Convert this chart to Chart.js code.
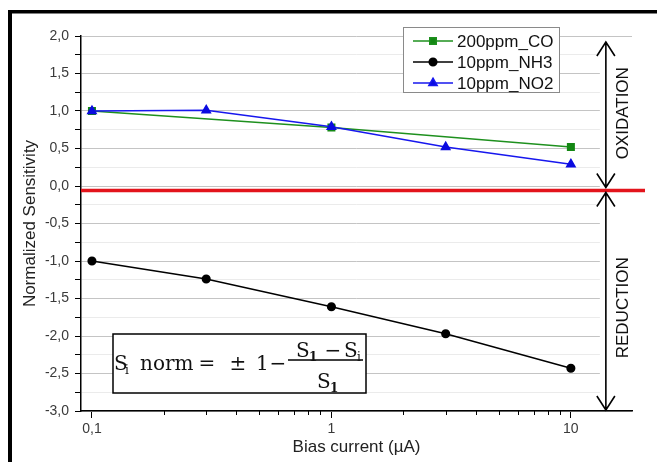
<!DOCTYPE html>
<html>
<head>
<meta charset="utf-8">
<script src="https://cdn.jsdelivr.net/npm/chart.js@4.4.1/dist/chart.umd.min.js"></script>
<style>
  html, body { margin: 0; padding: 0; background: #fff; }
  #wrap { position: relative; width: 657px; height: 462px; }
</style>
</head>
<body>
<div id="wrap"><canvas id="myChart_sens"></canvas></div>
<script>
/*--------DATA-----------*/
var currents = [0.1, 0.3, 1, 3, 10];
var co_currents = [0.1, 1, 10];
var co_200 = [1.0, 0.78, 0.52];
var nh3_10 = [-1.0, -1.24, -1.61, -1.97, -2.43];
var no2_10 = [1.0, 1.01, 0.79, 0.52, 0.29];

var xMajor = [0.1, 1, 10];
var xMinor = [0.2, 0.3, 0.4, 0.5, 0.6, 0.7, 0.8, 0.9, 2, 3, 4, 5, 6, 7, 8, 9];
var zeroLine = -0.06;
var arrowX = 14;

var FONT = "'Liberation Sans', Arial, sans-serif";
var SERIF = "'DejaVu Serif', serif";

function pts(xs, ys) {
  return xs.map(function (x, i) { return { x: x, y: ys[i] }; });
}

/*--------EXTRAS (red line, arrows, legend, formula)-----------*/
var extras = {
  id: 'extras',
  beforeDatasetsDraw: function (chart) {
    var ctx = chart.ctx, a = chart.chartArea;
    var ax = chart.scales.x.getPixelForValue(arrowX);
    ctx.save();
    ctx.fillStyle = '#fff';
    ctx.fillRect(ax - 6, a.top + 2, a.right - ax + 6, a.bottom - a.top - 3);
    ctx.restore();
  },
  afterDatasetsDraw: function (chart) {
    var ctx = chart.ctx, a = chart.chartArea;
    var xs = chart.scales.x, ys = chart.scales.y;
    ctx.save();

    // minor x ticks
    ctx.strokeStyle = '#000';
    ctx.lineWidth = 1;
    xMinor.forEach(function (v) {
      var px = Math.round(xs.getPixelForValue(v)) + 0.5;
      ctx.beginPath();
      ctx.moveTo(px, a.bottom);
      ctx.lineTo(px, a.bottom + 4);
      ctx.stroke();
    });

    // red line
    var ry = ys.getPixelForValue(zeroLine);
    ctx.strokeStyle = '#e3141c';
    ctx.lineWidth = 3.5;
    ctx.beginPath();
    ctx.moveTo(a.left, ry);
    ctx.lineTo(a.right + 13, ry);
    ctx.stroke();

    // arrows
    var ax = xs.getPixelForValue(arrowX);
    function arrow(y1, y2) {
      ctx.beginPath();
      ctx.moveTo(ax, y1); ctx.lineTo(ax, y2);
      ctx.moveTo(ax - 9, y1 + 14); ctx.lineTo(ax, y1); ctx.lineTo(ax + 9, y1 + 14);
      ctx.moveTo(ax - 9, y2 - 14); ctx.lineTo(ax, y2); ctx.lineTo(ax + 9, y2 - 14);
      ctx.stroke();
    }
    ctx.strokeStyle = '#000';
    ctx.lineWidth = 1.6;
    arrow(ys.getPixelForValue(1.92), ry - 3);
    arrow(ry + 2, a.bottom - 1);

    ctx.fillStyle = '#111';
    ctx.font = '17px ' + FONT;
    ctx.textAlign = 'center';
    ctx.textBaseline = 'middle';
    var topMid = (ys.getPixelForValue(1.92) + ry) / 2;
    var botMid = (ry + a.bottom) / 2;
    [['OXIDATION', topMid - 3], ['REDUCTION', botMid + 7]].forEach(function (t) {
      ctx.save();
      ctx.translate(ax + 17, t[1]);
      ctx.rotate(-Math.PI / 2);
      ctx.fillText(t[0], 0, 0);
      ctx.restore();
    });
    ctx.restore();
  },
  afterDraw: function (chart) {
    var ctx = chart.ctx;
    ctx.save();

    // frame
    ctx.fillStyle = '#000';
    ctx.fillRect(8, 10, 657, 3.5);
    ctx.fillRect(8, 10, 4, 462);

    // legend
    var lx = 403, ly = 27;
    ctx.fillStyle = '#fff';
    ctx.fillRect(lx, ly, 156, 65);
    ctx.strokeStyle = '#8a8a8a';
    ctx.lineWidth = 1;
    ctx.strokeRect(lx + 0.5, ly + 0.5, 156, 65);
    var items = chart.data.datasets;
    ctx.font = '17px ' + FONT;
    ctx.textAlign = 'left';
    ctx.textBaseline = 'middle';
    items.forEach(function (ds, i) {
      var y = ly + 14 + i * 21;
      ctx.strokeStyle = ds.borderColor;
      ctx.lineWidth = 1.5;
      ctx.beginPath();
      ctx.moveTo(lx + 10, y); ctx.lineTo(lx + 50, y);
      ctx.stroke();
      ctx.fillStyle = ds.pointBackgroundColor;
      Chart.helpers.drawPoint(ctx, { pointStyle: ds.pointStyle, radius: ds.pointRadius, rotation: 0, borderWidth: 1 }, lx + 30, y);
      ctx.fillStyle = '#111';
      ctx.fillText(ds.label, lx + 54, y + 1);
    });

    // formula box
    var bx = 113, by = 334;
    ctx.fillStyle = '#fff';
    ctx.fillRect(bx, by, 253, 59);
    ctx.strokeStyle = '#000';
    ctx.lineWidth = 1.5;
    ctx.strokeRect(bx, by, 253, 59);
    ctx.fillStyle = '#111';
    ctx.textBaseline = 'alphabetic';
    ctx.textAlign = 'left';
    ctx.font = '20px ' + SERIF;
    ctx.fillText('S', bx + 1, by + 36);
    ctx.fillText('norm', bx + 27, by + 36);
    ctx.fillText('1', bx + 143, by + 36);
    ctx.textAlign = 'center';
    ctx.fillText('=', bx + 94, by + 36);
    ctx.fillText('±', bx + 125, by + 36);
    ctx.fillText('−', bx + 165, by + 36);
    ctx.textAlign = 'left';
    ctx.font = '12px ' + SERIF;
    ctx.fillText('i', bx + 12, by + 40);
    // fraction
    ctx.beginPath();
    ctx.lineWidth = 1.3;
    ctx.moveTo(bx + 175, by + 26); ctx.lineTo(bx + 250, by + 26);
    ctx.stroke();
    ctx.font = '20px ' + SERIF;
    ctx.fillText('S', bx + 183, by + 23);
    ctx.fillText('S', bx + 231, by + 23);
    ctx.fillText('S', bx + 204, by + 54);
    ctx.font = 'bold 12px ' + SERIF;
    ctx.fillText('1', bx + 196, by + 27);
    ctx.fillText('1', bx + 217, by + 58);
    ctx.font = '12px ' + SERIF;
    ctx.fillText('i', bx + 244, by + 27);
    ctx.font = '20px ' + SERIF;
    ctx.textAlign = 'center';
    ctx.fillText('−', bx + 220, by + 23);
    ctx.restore();
  }
};

/*--------CHART-----------*/
var ctx = document.getElementById("myChart_sens");
var myChart = new Chart(ctx, {
  type: 'line',
  data: {
    datasets: [
      {
        data: pts(co_currents, co_200),
        label: "200ppm_CO",
        borderColor: "#1e901e",
        pointBackgroundColor: "#138713",
        pointBorderColor: "#138713",
        pointStyle: 'rect',
        pointRadius: 4.6,
        borderWidth: 1.5,
        fill: false,
        order: 2
      },
      {
        data: pts(currents, nh3_10),
        label: "10ppm_NH3",
        borderColor: "#000000",
        pointBackgroundColor: "#000000",
        pointBorderColor: "#000000",
        pointStyle: 'circle',
        pointRadius: 3.8,
        borderWidth: 1.5,
        fill: false,
        order: 1
      },
      {
        data: pts(currents, no2_10),
        label: "10ppm_NO2",
        borderColor: "#1717ee",
        pointBackgroundColor: "#0b0be0",
        pointBorderColor: "#0b0be0",
        pointStyle: 'triangle',
        pointRadius: 4.8,
        borderWidth: 1.5,
        fill: false,
        order: 0
      }
    ]
  },
  options: {
    responsive: true,
    maintainAspectRatio: false,
    animation: false,
    layout: { padding: { top: 36, right: 25, left: 0, bottom: 0 } },
    plugins: { legend: { display: false }, tooltip: { enabled: false } },
    scales: {
      x: {
        type: 'logarithmic',
        min: 0.09,
        max: 18,
        afterBuildTicks: function (s) { s.ticks = xMajor.map(function (v) { return { value: v }; }); },
        afterFit: function (s) { s.height = 51; },
        ticks: {
          autoSkip: false, maxRotation: 0, padding: 3, color: '#3a3a3a',
          font: { family: FONT, size: 14 },
          callback: function (v) { return String(v).replace('.', ','); }
        },
        grid: { drawOnChartArea: false, tickLength: 7, color: '#000' },
        border: { color: '#000', width: 1.5 },
        title: { display: true, text: 'Bias current (µA)', color: '#222', font: { family: FONT, size: 17 }, padding: { bottom: 4 } }
      },
      y: {
        type: 'linear',
        min: -3,
        max: 2,
        afterFit: function (s) { s.width = 81; },
        ticks: {
          stepSize: 0.25, autoSkip: false, padding: 6, color: '#3a3a3a',
          font: { family: FONT, size: 14 },
          callback: function (v) {
            if (Math.abs(v * 2 - Math.round(v * 2)) > 1e-6) return '';
            var r = Math.round(v * 2) / 2;
            return (r === 0 ? 0 : r).toFixed(1).replace('.', ',');
          }
        },
        grid: {
          tickLength: 6,
          tickColor: '#000',
          color: function (c) {
            var v = c.tick ? c.tick.value : 0;
            return Math.abs(v * 2 - Math.round(v * 2)) < 1e-6 ? '#c4c4c4' : '#ebebeb';
          }
        },
        border: { color: '#000', width: 1.5 },
        title: { display: true, text: 'Normalized Sensitivity', color: '#222', font: { family: FONT, size: 17 }, padding: { top: 20 } }
      }
    }
  },
  plugins: [extras]
});
</script>
</body>
</html>
